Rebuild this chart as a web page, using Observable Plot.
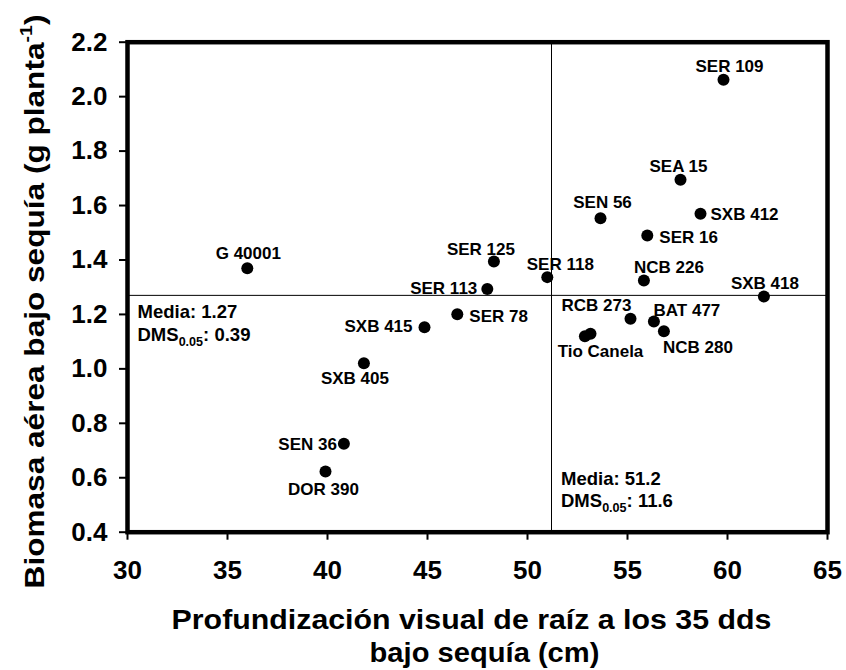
<!DOCTYPE html>
<html>
<head>
<meta charset="utf-8">
<script src="https://cdn.jsdelivr.net/npm/d3@7"></script>
<script src="https://cdn.jsdelivr.net/npm/@observablehq/plot@0.6"></script>
<style>
html, body { margin: 0; padding: 0; background: #fff; }
</style>
</head>
<body>
<div id="chart"></div>
<script>
// ---- data ----
const genotypes = ["G 40001", "SER 109", "SEA 15", "SEN 56", "SXB 412", "SER 16", "SER 125", "SER 118",
  "NCB 226", "SER 113", "SXB 418", "SER 78", "SXB 415", "RCB 273", "BAT 477", "NCB 280", "",
  "Tio Canela", "SXB 405", "SEN 36", "DOR 390"];
const rootDepth = [35.99, 59.80, 57.65, 53.65, 58.65, 55.99, 48.32, 50.99,
  55.82, 47.99, 61.82, 46.49, 44.85, 55.15, 56.32, 56.82, 52.87,
  53.15, 41.82, 40.82, 39.90];
const biomass = [1.370, 2.062, 1.695, 1.553, 1.570, 1.490, 1.394, 1.337,
  1.325, 1.293, 1.266, 1.201, 1.153, 1.184, 1.174, 1.138, 1.120,
  1.129, 1.021, 0.725, 0.623];
const xTicks = [30, 35, 40, 45, 50, 55, 60, 65];
const yTicks = [0.4, 0.6, 0.8, 1.0, 1.2, 1.4, 1.6, 1.8, 2.0, 2.2];
const meanRoot = 51.2, dmsRoot = 11.6;
const meanBiomass = 1.27, dmsBiomass = 0.39;
const xTitleLines = ["Profundización visual de raíz a los 35 dds", "bajo sequía (cm)"];
const yTitle = "Biomasa aérea bajo sequía (g planta^{-1})";

// ---- layout: label placement [textAnchor, dx, dy(baseline)] ----
const labelPlacement = {
  "G 40001": ["middle", 1, -9], "SER 109": ["middle", 6, -8], "SEA 15": ["middle", -2, -8],
  "SEN 56": ["middle", 2, -10], "SXB 412": ["start", 10, 6], "SER 16": ["start", 12, 8],
  "SER 125": ["middle", -13, -7], "SER 118": ["middle", 13, -7], "NCB 226": ["middle", 25, -7],
  "SER 113": ["end", -10, 5], "SXB 418": ["middle", 1, -7], "SER 78": ["start", 12, 8],
  "SXB 415": ["end", -12, 5], "RCB 273": ["middle", -34, -8], "BAT 477": ["middle", 33, -6],
  "NCB 280": ["middle", 34, 22], "Tio Canela": ["middle", 10, 23], "SXB 405": ["middle", -9, 21],
  "SEN 36": ["end", -7, 6], "DOR 390": ["middle", -2, 24]
};

const points = genotypes.map((g, i) => ({name: g, x: rootDepth[i], y: biomass[i]}));

const W = 846, H = 670;
const mL = 127, mR = 19, mT = 41.7, mB = 138.3;
const frameMidY = (mT + (H - mB)) / 2;

const labelMarks = points.filter(p => p.name).map(p => {
  const [anchor, dx, dy] = labelPlacement[p.name];
  return Plot.text([p], {x: "x", y: "y", text: "name", textAnchor: anchor, dx, dy,
    lineAnchor: "bottom", fontSize: 17, fill: "black"});
});

const chart = Plot.plot({
  width: W, height: H,
  marginLeft: mL, marginRight: mR, marginTop: mT, marginBottom: mB,
  style: {fontFamily: "'Liberation Sans', Arial, sans-serif", fontWeight: "bold", color: "black", background: "white", overflow: "visible"},
  x: {domain: [30, 65]},
  y: {domain: [0.4, 2.2]},
  marks: [
    Plot.ruleX([meanRoot], {stroke: "black", strokeWidth: 1}),
    Plot.ruleY([meanBiomass], {stroke: "black", strokeWidth: 1}),
    Plot.frame({stroke: "black", strokeWidth: 4.5}),
    Plot.axisX({ticks: xTicks, tickSize: 8, tickPadding: 20, fontSize: 26, strokeWidth: 2,
      label: null, tickFormat: d => String(d)}),
    Plot.axisY({ticks: yTicks, tickSize: 8, tickPadding: 12, fontSize: 26, strokeWidth: 2,
      label: null, tickFormat: d3.format(".1f")}),
    Plot.dot(points, {x: "x", y: "y", r: 6, fill: "black"}),
    ...labelMarks,
    // mean / DMS annotations
    Plot.text([{v: meanBiomass, t: `Media: ${meanBiomass.toFixed(2)}`}], {y: "v", text: "t", frameAnchor: "left",
      textAnchor: "start", lineAnchor: "bottom", dx: 10, dy: 23, fontSize: 18.5}),
    Plot.text([{v: meanBiomass, t: `DMS_{0.05}: ${dmsBiomass.toFixed(2)}`}], {y: "v", text: "t", frameAnchor: "left",
      textAnchor: "start", lineAnchor: "bottom", dx: 10, dy: 46, fontSize: 18.5}),
    Plot.text([{v: meanRoot, t: `Media: ${meanRoot.toFixed(1)}`}], {x: "v", text: "t", frameAnchor: "bottom",
      textAnchor: "start", lineAnchor: "bottom", dx: 9.5, dy: -47.7, fontSize: 18.5}),
    Plot.text([{v: meanRoot, t: `DMS_{0.05}: ${dmsRoot.toFixed(1)}`}], {x: "v", text: "t", frameAnchor: "bottom",
      textAnchor: "start", lineAnchor: "bottom", dx: 9.5, dy: -25, fontSize: 18.5}),
    // axis titles
    Plot.text([xTitleLines[0]], {text: d => d, frameAnchor: "bottom", textAnchor: "middle", lineAnchor: "bottom", dx: -6, dy: 96.6, fontSize: 27}),
    Plot.text([xTitleLines[1]], {text: d => d, frameAnchor: "bottom", textAnchor: "middle", lineAnchor: "bottom", dx: 7, dy: 130, fontSize: 27}),
    Plot.text([yTitle], {text: d => d, frameAnchor: "left", textAnchor: "middle", rotate: -90, lineAnchor: "bottom",
      dx: 43 - mL, dy: 301 - frameMidY, fontSize: 28})
  ]
});
document.getElementById("chart").appendChild(chart);

// ---- rich text: _{sub} and ^{sup} ----
const svgns = "http://www.w3.org/2000/svg";
function richText(el) {
  const s = el.textContent;
  if (!/[_^]\{/.test(s)) return;
  const holder = el.closest("[font-size]");
  const fs = holder ? parseFloat(holder.getAttribute("font-size")) : 16;
  const parts = s.split(/([_^]\{[^}]*\})/).filter(p => p);
  el.textContent = "";
  let shift = 0;
  for (const p of parts) {
    const m = p.match(/^([_^])\{([^}]*)\}$/);
    const t = document.createElementNS(svgns, "tspan");
    let target = 0;
    if (m) {
      target = m[1] === "_" ? 0.27 * fs : -0.42 * fs;
      t.setAttribute("font-size", (m[1] === "_" ? 0.68 : 0.62) * fs);
      t.textContent = m[2];
    } else {
      t.textContent = p;
    }
    if (target - shift !== 0) t.setAttribute("dy", target - shift);
    shift = target;
    el.appendChild(t);
  }
}
// horizontal stretch of the axis titles (target lengths along the text direction)
const stretch = new Map([[xTitleLines[0], 600], [xTitleLines[1], 230], [yTitle, 574]]);
d3.select(chart).selectAll("text").each(function () {
  const s = this.textContent;
  const L = stretch.get(s);
  richText(this);
  if (L) {
    const len = this.getComputedTextLength();
    const k = len > 0 ? L / len : 1;
    const tr = this.getAttribute("transform") || "";
    this.setAttribute("transform", `${tr} scale(${k},1)`);
  }
});
</script>
</body>
</html>
